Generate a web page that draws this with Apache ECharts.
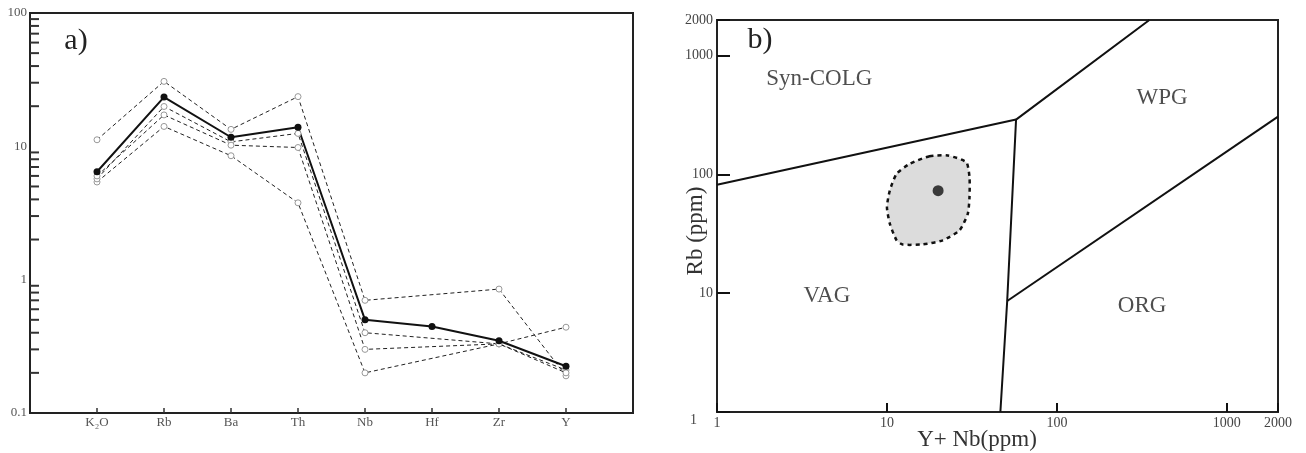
<!DOCTYPE html>
<html>
<head>
<meta charset="utf-8">
<script src="https://cdn.jsdelivr.net/npm/echarts@6/dist/echarts.min.js"></script>
<style>
html, body { margin: 0; padding: 0; background: #fff; }
#main { width: 1306px; height: 453px; }
</style>
</head>
<body>
<div id="main"></div>
<script>
// a) spider diagram
var elements = ['K\u2082O', 'Rb', 'Ba', 'Th', 'Nb', 'Hf', 'Zr', 'Y'];
var average = [6.45, 23.4, 11.7, 13.9, 0.50, 0.445, 0.348, 0.224];
var sample1 = [11.2, 30.7, 13.4, 23.6, 0.70, null, 0.85, 0.19];
var sample2 = [5.4, 14.1, 8.5, 3.77, 0.20, null, 0.33, 0.44];
var sample3 = [5.7, 19.9, 10.8, 12.5, 0.40, null, 0.33, 0.21];
var sample4 = [6.0, 17.2, 10.2, 9.8, 0.30, null, 0.33, 0.20];
var minorTicks = [0.2, 0.3, 0.4, 0.5, 0.6, 0.7, 0.8, 0.9,
                  2, 3, 4, 5, 6, 7, 8, 9,
                  20, 30, 40, 50, 60, 70, 80, 90];

// b) Rb vs Y+Nb discrimination diagram
var boundary1 = [[1, 82], [57.5, 290]];
var boundary2 = [[46.5, 1], [51, 8.6], [57.5, 290], [350, 2000]];
var boundary3 = [[51, 8.6], [2000, 307]];
var blobX = [17.8, 22.8, 29.3, 30.6, 30.6, 29.9, 26.7, 21.3, 16.3, 12.4, 11.4, 10.4, 10.0, 10.4, 11.4, 13.6];
var blobY = [142.5, 144.5, 126.9, 94.9, 64.5, 46.7, 33.8, 27.9, 25.8, 25.7, 27.9, 38.5, 53.1, 73.4, 101.4, 123];
var meanPoint = [20, 73];
var fieldNames = ['Syn-COLG', 'WPG', 'VAG', 'ORG'];
var fieldX = [4.0, 416, 4.43, 317];
var fieldY = [641, 444, 9.4, 7.8];

var serif = '"Liberation Serif", "Times New Roman", serif';
var chart = echarts.init(document.getElementById('main'));

function pad(arr) {
    return [null].concat(arr, [null]);
}
function dashedSample(arr) {
    return {
        type: 'line', xAxisIndex: 0, yAxisIndex: 0,
        data: pad(arr), connectNulls: true,
        symbol: 'circle', symbolSize: 6,
        lineStyle: {color: '#222', width: 1, type: [4, 3]},
        itemStyle: {color: '#fff', borderColor: '#999', borderWidth: 1}
    };
}
function numLabel(v) {
    return String(+Number(v).toPrecision(3));
}

var option = {
    animation: false,
    backgroundColor: '#fff',
    textStyle: {fontFamily: serif},
    grid: [
        {left: 30, top: 13, width: 603, height: 400, show: true, borderColor: '#222', borderWidth: 2},
        {left: 717, top: 20, width: 561, height: 392, show: true, borderColor: '#222', borderWidth: 2}
    ],
    xAxis: [
        {
            type: 'category', gridIndex: 0, boundaryGap: false,
            data: [''].concat(elements, ['']),
            axisLine: {lineStyle: {color: '#222', width: 2}},
            axisTick: {inside: true, length: 5, interval: function (i) { return i > 0 && i < 9; },
                lineStyle: {color: '#333', width: 1.5}},
            axisLabel: {interval: 0, margin: 3, fontFamily: serif, fontSize: 13, color: '#555'},
            splitLine: {show: false}
        },
        {
            type: 'log', logBase: 10, gridIndex: 1, min: 1, max: 2000,
            axisLine: {lineStyle: {color: '#222', width: 2}},
            axisTick: {inside: true, length: 9, lineStyle: {color: '#111', width: 2}},
            axisLabel: {margin: 4, fontFamily: serif, fontSize: 14, color: '#444', formatter: numLabel},
            splitLine: {show: false}
        }
    ],
    yAxis: [
        {
            type: 'log', logBase: 10, gridIndex: 0, min: 0.1, max: 100,
            axisLine: {lineStyle: {color: '#222', width: 2}},
            axisTick: {inside: true, length: 17, lineStyle: {color: '#111', width: 2}},
            axisLabel: {margin: 3, fontFamily: serif, fontSize: 13, color: '#555', formatter: numLabel},
            splitLine: {show: false}
        },
        {
            type: 'log', logBase: 10, gridIndex: 1, min: 1, max: 2000,
            axisLine: {lineStyle: {color: '#222', width: 2}},
            axisTick: {inside: true, length: 13, lineStyle: {color: '#111', width: 2}},
            axisLabel: {
                margin: 4, fontFamily: serif, fontSize: 14, color: '#444',
                formatter: function (v) {
                    var s = numLabel(v);
                    return s === '1' ? '{low|1}' : s;
                },
                rich: {low: {fontFamily: serif, fontSize: 14, color: '#444', padding: [16, 16, 0, 0]}}
            },
            splitLine: {show: false}
        }
    ],
    graphic: [
        {type: 'text', x: 76, y: 41, style: {text: 'a)', fontFamily: serif, fontSize: 30, fill: '#222', align: 'center', verticalAlign: 'middle'}},
        {type: 'text', x: 760, y: 40, style: {text: 'b)', fontFamily: serif, fontSize: 30, fill: '#222', align: 'center', verticalAlign: 'middle'}},
        {type: 'text', x: 977, y: 440, style: {text: 'Y+ Nb(ppm)', fontFamily: serif, fontSize: 23, fill: '#333', align: 'center', verticalAlign: 'middle'}},
        {type: 'text', x: 696, y: 231, rotation: Math.PI / 2, style: {text: 'Rb (ppm)', fontFamily: serif, fontSize: 23, fill: '#333', align: 'center', verticalAlign: 'middle'}}
    ],
    series: [
        {
            type: 'custom', xAxisIndex: 0, yAxisIndex: 0, silent: true, z: 10,
            data: minorTicks.map(function (v) { return [0, v]; }),
            renderItem: function (params, api) {
                var p = api.coord([api.value(0), api.value(1)]);
                return {type: 'line', shape: {x1: p[0], y1: p[1], x2: p[0] + 9, y2: p[1]},
                    style: {stroke: '#333', lineWidth: 2}};
            }
        },
        dashedSample(sample1),
        dashedSample(sample2),
        dashedSample(sample3),
        dashedSample(sample4),
        {
            type: 'line', xAxisIndex: 0, yAxisIndex: 0,
            data: pad(average), symbol: 'circle', symbolSize: 7,
            lineStyle: {color: '#111', width: 2},
            itemStyle: {color: '#111'}
        },
        {
            type: 'custom', xAxisIndex: 1, yAxisIndex: 1, silent: true,
            data: blobX.map(function (x, i) { return [x, blobY[i]]; }),
            renderItem: function (params, api) {
                if (params.dataIndex !== 0) return null;
                var pts = blobX.map(function (x, i) { return api.coord([x, blobY[i]]); });
                return {type: 'polygon', shape: {points: pts, smooth: 0.2},
                    style: {fill: '#dcdcdc', stroke: '#111', lineWidth: 2.5, lineDash: [4, 4]}};
            }
        },
        {
            type: 'line', xAxisIndex: 1, yAxisIndex: 1, data: boundary1, symbol: 'none',
            lineStyle: {color: '#111', width: 2}
        },
        {
            type: 'line', xAxisIndex: 1, yAxisIndex: 1, data: boundary2, symbol: 'none',
            lineStyle: {color: '#111', width: 2}
        },
        {
            type: 'line', xAxisIndex: 1, yAxisIndex: 1, data: boundary3, symbol: 'none',
            lineStyle: {color: '#111', width: 2}
        },
        {
            type: 'scatter', xAxisIndex: 1, yAxisIndex: 1, data: [meanPoint],
            symbolSize: 11, itemStyle: {color: '#111'}, z: 5
        },
        {
            type: 'scatter', xAxisIndex: 1, yAxisIndex: 1, silent: true,
            data: fieldNames.map(function (n, i) { return {name: n, value: [fieldX[i], fieldY[i]]}; }),
            symbolSize: 0,
            label: {show: true, position: 'inside', formatter: '{b}', fontFamily: serif, fontSize: 23, color: '#222'}
        }
    ]
};
chart.setOption(option);
</script>
</body>
</html>
